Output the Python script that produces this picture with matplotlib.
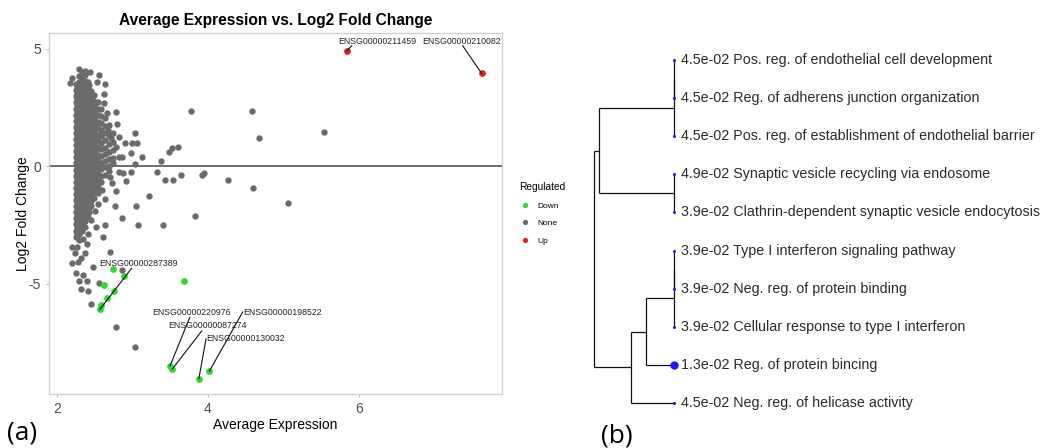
import matplotlib
matplotlib.use("Agg")
import matplotlib.pyplot as plt
from matplotlib.lines import Line2D

plt.rcParams["axes.unicode_minus"] = False

# ---------------- data: MA plot (panel a) ----------------
# dense core of unregulated genes, column x -> list of y values
core_x = [2.25, 2.29, 2.33, 2.37, 2.41, 2.45, 2.49, 2.54, 2.59, 2.64, 2.69, 2.74,
          2.27, 2.35, 2.43, 2.51]
core_y = [
    [3.50, 3.24, 2.98, 2.72, 2.46, 2.20, 1.94, 1.68, 1.42, 1.16, 0.90, 0.64, 0.38, 0.12,
     -0.14, -0.40, -0.66, -0.92, -1.18, -1.44, -1.70, -1.96, -2.22, -2.48, -2.74, -3.00],
    [3.87, 3.61, 3.37, 3.11, 2.85, 2.59, 2.33, 2.07, 1.81, 1.55, 1.29, 1.03, 0.77, 0.51,
     0.25, -0.01, -0.27, -0.53, -0.79, -1.05, -1.31, -1.57, -1.83, -2.09, -2.35, -2.61, -2.87, -3.13],
    [4.00, 3.74, 3.48, 3.22, 2.96, 2.70, 2.44, 2.18, 1.92, 1.66, 1.40, 1.14, 0.88, 0.62,
     0.36, 0.10, -0.16, -0.42, -0.68, -0.94, -1.20, -1.46, -1.72, -1.98, -2.24, -2.50, -2.76],
    [3.89, 3.63, 3.37, 3.11, 2.85, 2.59, 2.33, 2.07, 1.81, 1.55, 1.29, 1.03, 0.77, 0.51,
     0.25, -0.01, -0.27, -0.53, -0.79, -1.05, -1.31, -1.57, -1.83, -2.09, -2.35, -2.60],
    [3.60, 3.34, 3.08, 2.82, 2.56, 2.30, 2.04, 1.78, 1.52, 1.26, 1.00, 0.74, 0.48, 0.22,
     -0.04, -0.30, -0.56, -0.82, -1.08, -1.34, -1.60, -1.86, -2.15],
    [3.20, 2.95, 2.69, 2.43, 2.17, 1.91, 1.65, 1.39, 1.13, 0.87, 0.61, 0.35, 0.09, -0.17,
     -0.43, -0.69, -0.95, -1.21, -1.47, -1.70],
    [3.05, 2.80, 2.54, 2.28, 2.02, 1.76, 1.50, 1.24, 0.98, 0.72, 0.46, 0.20, -0.06, -0.32,
     -0.58, -0.84, -1.10, -1.36],
    [2.75, 2.46, 2.18, 1.90, 1.62, 1.34, 1.06, 0.78, 0.50, 0.22, -0.06, -0.34, -0.62, -0.90, -1.15],
    [2.45, 2.15, 1.85, 1.55, 1.28, 1.00, 0.72, 0.44, 0.16, -0.12, -0.40, -0.68],
    [2.05, 1.70, 1.40, 1.10, 0.80, 0.52, 0.24, -0.05, -0.35],
    [1.75, 1.35, 0.95, 0.62, 0.30, 0.02, -0.20],
    [1.05, 0.70, 0.35, 0.12],
    [3.37, 3.11, 2.85, 2.59, 2.33, 2.07, 1.81, 1.55, 1.29, 1.03, 0.77, 0.51, 0.25, -0.01,
     -0.27, -0.53, -0.79, -1.05, -1.31, -1.57, -1.83, -2.09, -2.35, -2.61, -2.87],
    [3.50, 3.24, 2.98, 2.72, 2.46, 2.20, 1.94, 1.68, 1.42, 1.16, 0.90, 0.64, 0.38, 0.12,
     -0.14, -0.40, -0.66, -0.92, -1.18, -1.44, -1.70, -1.96, -2.22, -2.48],
    [3.47, 3.21, 2.95, 2.69, 2.43, 2.17, 1.91, 1.65, 1.39, 1.13, 0.87, 0.61, 0.35, 0.09,
     -0.17, -0.43, -0.69, -0.95, -1.21, -1.47, -1.73, -1.95],
    [2.67, 2.41, 2.15, 1.89, 1.63, 1.37, 1.11, 0.85, 0.59, 0.33, 0.07, -0.19, -0.45, -0.71, -0.97],
]

# scattered unregulated genes
none_x = [2.18, 2.20, 2.29, 2.37, 2.44, 2.53, 2.56, 2.64, 2.63, 2.62, 2.66, 2.79, 2.80, 2.68,
          2.75, 2.82, 2.72, 2.78, 2.82, 2.86, 2.90, 2.98, 3.00, 3.06, 3.04, 3.13, 3.04, 2.98,
          2.88, 2.91, 2.83, 2.73, 2.79, 2.64, 2.77, 2.87, 2.60, 2.70, 2.55, 2.50, 2.46, 2.52,
          2.42, 2.35, 2.27, 2.20, 2.20, 2.28, 2.26, 2.35, 2.29, 2.40, 2.32, 2.42, 2.46, 2.56,
          2.79, 3.04, 2.48, 2.70, 2.61, 2.64, 3.08, 3.40, 2.86, 2.38, 2.32, 2.24, 2.40,
          3.78, 4.58, 4.68, 5.54, 3.61, 3.53, 3.49, 3.38, 3.32, 3.43, 3.54, 3.65, 3.92, 3.95,
          4.26, 4.59, 5.06, 3.83, 3.22, 3.05]
none_y = [3.55, 3.75, 4.13, 4.06, 4.03, 3.61, 3.89, 3.50, 3.10, 2.69, 2.26, 2.31, 1.80, 1.55,
          1.41, 1.26, 1.20, 0.82, 0.41, 0.41, 0.98, 0.55, 0.98, 0.98, 1.43, 0.38, 0.09, -0.24,
          -0.30, -0.61, -0.23, -0.72, -1.05, -1.41, -1.68, -2.20, -1.00, -0.45, -1.60, -1.90, -2.30, -2.60,
          -2.90, -3.10, -3.45, -3.43, -4.13, -4.10, -4.56, -4.63, -4.88, -4.88, -5.24, -5.30, -5.87, -4.96,
          -6.86, -7.69, -4.28, -3.65, -3.00, -2.50, -2.50, -2.50, -4.42, -3.70, -3.90, -3.70, -3.30,
          2.36, 2.36, 1.19, 1.48, 0.81, 0.79, 0.60, 0.23, -0.23, -0.60, -0.57, -0.37, -0.36, -0.27,
          -0.60, -0.94, -1.58, -2.10, -1.25, -1.69]

down_x = [2.74, 2.62, 2.89, 2.76, 2.67, 2.59, 2.57, 3.69, 3.50, 3.53, 3.88, 4.02]
down_y = [-4.37, -5.07, -4.68, -5.30, -5.60, -5.91, -6.10, -4.88, -8.50, -8.64, -9.05, -8.73]

up_x = [5.84, 7.62]
up_y = [4.93, 3.96]

# labelled genes: gene, point (x, y), label centre (x, y), segment start (x, y)
lab_genes = ["ENSG00000211459", "ENSG00000210082", "ENSG00000287389", "ENSG00000220976",
             "ENSG00000087274", "ENSG00000130032", "ENSG00000198522"]
lab_px = [5.84, 7.62, 2.57, 3.50, 3.53, 3.88, 4.02]
lab_py = [4.93, 3.96, -6.10, -8.50, -8.64, -9.05, -8.73]
lab_tx = [6.24, 7.36, 3.08, 3.79, 4.00, 4.50, 4.99]
lab_ty = [5.34, 5.34, -4.13, -6.22, -6.79, -7.36, -6.22]
lab_sx = [5.90, 7.37, 2.99, 3.76, 3.92, 3.975, 4.46]
lab_sy = [5.13, 5.14, -4.35, -6.44, -7.01, -7.36, -6.21]

x_ticks = [2, 4, 6]
y_ticks = [-5, 0, 5]

# ---------------- data: GO dendrogram (panel b) ----------------
go_pvals = ["4.5e-02", "4.5e-02", "4.5e-02", "4.9e-02", "3.9e-02",
            "3.9e-02", "3.9e-02", "3.9e-02", "1.3e-02", "4.5e-02"]
go_terms = ["Pos. reg. of endothelial cell development",
            "Reg. of adherens junction organization",
            "Pos. reg. of establishment of endothelial barrier",
            "Synaptic vesicle recycling via endosome",
            "Clathrin-dependent synaptic vesicle endocytosis",
            "Type I interferon signaling pathway",
            "Neg. reg. of protein binding",
            "Cellular response to type I interferon",
            "Reg. of protein bincing",
            "Neg. reg. of helicase activity"]
go_dot_size = [2.2, 2.2, 2.2, 2.2, 2.2, 2.2, 2.2, 2.2, 6.0, 2.2]
# hclust-style merges: negative = leaf (1-based), positive = earlier merge (1-based)
merge_a = [-1, 1, -4, 2, -6, 5, 6, 7, 4]
merge_b = [-2, -3, -5, 3, -7, -8, -9, -10, 8]
merge_h = [0.0, 0.0, 0.0, 0.9375, 0.0, 0.0, 0.354, 0.5375, 1.0]

# ---------------- figure ----------------
W, H = 1047, 448
fig = plt.figure(figsize=(W / 100, H / 100), dpi=100)
font_l = "Liberation Sans"

ax = fig.add_axes([49.3 / W, (H - 394) / H, 452.4 / W, 360.7 / H])
ax.set_xlim(1.902, 7.886)
ax.set_ylim(-9.706, 5.669)
ax.axhline(0, color="#555555", lw=1.2, zorder=1)

gx, gy = [], []
for cx, ys in zip(core_x, core_y):
    gx += [cx] * len(ys)
    gy += ys
gx += none_x
gy += none_y
ax.scatter(gx, gy, s=21, color="#6b6b6b", linewidths=0, zorder=2)
ax.scatter(down_x, down_y, s=24, color="#2fd92f", linewidths=0, zorder=3)
ax.scatter(up_x, up_y, s=24, color="#d62626", linewidths=0, zorder=3)

for g, px, py, tx, ty, sx, sy in zip(lab_genes, lab_px, lab_py, lab_tx, lab_ty, lab_sx, lab_sy):
    ax.text(tx, ty, g, ha="center", va="center", fontsize=6.3, family=font_l,
            color="#222222", zorder=4)
    ax.plot([sx, px], [sy, py], color="#111111", lw=0.8, zorder=4)

ax.set_xticks(x_ticks)
ax.set_yticks(y_ticks)
ax.tick_params(length=2, color="#bbbbbb", labelsize=10, labelcolor="#4d4d4d", pad=4)
for lbl in ax.get_xticklabels() + ax.get_yticklabels():
    lbl.set_family(font_l)
for s in ax.spines.values():
    s.set_color("#d0d0d0")
    s.set_linewidth(1.0)
ax.set_xlabel("Average Expression", fontsize=10, family=font_l, labelpad=1)
ax.set_ylabel("Log2 Fold Change", fontsize=10, family=font_l, labelpad=-1)
fig.text(276 / W, 1 - 20 / H, "Average Expression vs. Log2 Fold Change", ha="center",
         va="center", fontsize=11.2, fontweight="bold", family=font_l)

handles = [Line2D([], [], marker="o", ls="", color=c, markersize=3.8, markeredgewidth=0)
           for c in ["#2fd92f", "#6b6b6b", "#d62626"]]
leg = fig.legend(handles, ["Down", "None", "Up"], title="Regulated", loc="upper left",
                 bbox_to_anchor=(512 / W, 1 - 175 / H), frameon=False, fontsize=6,
                 title_fontsize=7.3, handlelength=1.2, handletextpad=1.0, labelspacing=1.15,
                 alignment="left", prop={"family": font_l, "size": 6})
leg.get_title().set_family(font_l)

# ---------------- dendrogram ----------------
ax2 = fig.add_axes([560 / W, 0, (W - 560) / W, 1])
ax2.set_axis_off()
ax2.set_xlim(1.425, -4.6625)
ax2.set_ylim(11.18, -0.575)

n = len(go_terms)
leaf_pos = list(range(1, n + 1))
node_pos, node_h = [], []


def pos_h(idx):
    if idx < 0:
        return leaf_pos[-idx - 1], 0.0
    return node_pos[idx - 1], node_h[idx - 1]


for a, b, h in zip(merge_a, merge_b, merge_h):
    pa, ha = pos_h(a)
    pb, hb = pos_h(b)
    ax2.plot([ha, h], [pa, pa], color="#111111", lw=0.9, solid_capstyle="butt")
    ax2.plot([hb, h], [pb, pb], color="#111111", lw=0.9, solid_capstyle="butt")
    ax2.plot([h, h], [pa, pb], color="#111111", lw=0.9, solid_capstyle="butt")
    node_pos.append((pa + pb) / 2)
    node_h.append(h)

for i in range(n):
    ax2.plot([0], [leaf_pos[i]], marker="o", ls="", color="#1a1aff",
             markersize=go_dot_size[i], markeredgewidth=0, zorder=3)
    ax2.annotate(f"{go_pvals[i]} {go_terms[i]}", xy=(0, leaf_pos[i]), xytext=(5, 0),
                 textcoords="offset points", ha="left", va="center", fontsize=10.3,
                 family=font_l, color="#2a2a2a")

fig.text(7 / W, 1 - 433 / H, "(a)", fontsize=19, family="Open Sans", ha="left", va="center")
fig.text(601 / W, 1 - 436 / H, "(b)", fontsize=19, family="Open Sans", ha="left", va="center")

fig.savefig("out.png", dpi=100)
